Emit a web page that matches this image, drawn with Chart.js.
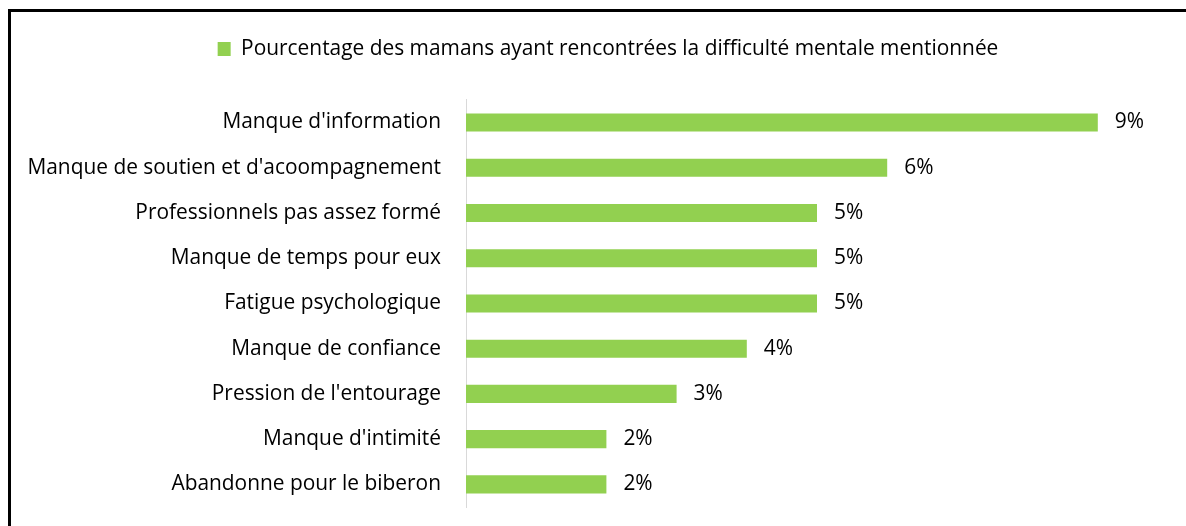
<!DOCTYPE html>
<html>
<head>
<meta charset="utf-8">
<script src="https://cdn.jsdelivr.net/npm/chart.js@4.4.1/dist/chart.umd.min.js"></script>
<style>
  html, body { margin: 0; padding: 0; background: #fff; }
  #wrap { position: relative; width: 1186px; height: 526px; overflow: hidden; }
  #frame { position: absolute; left: 8px; top: 9px; right: -10px; bottom: -10px;
           border-left: 3px solid #000; border-top: 3px solid #000; }
  canvas { position: absolute; left: 0; top: 0; }
</style>
</head>
<body>
<div id="wrap">
  <canvas id="c" width="1186" height="526" style="width:1186px;height:526px"></canvas>
  <div id="frame"></div>
</div>
<script>
const categories = [
  "Manque d'information",
  "Manque de soutien et d'acoompagnement",
  "Professionnels pas assez formé",
  "Manque de temps pour eux",
  "Fatigue psychologique",
  "Manque de confiance",
  "Pression de l'entourage",
  "Manque d'intimité",
  "Abandonne pour le biberon"
];
const seriesName = "Pourcentage des mamans ayant rencontrées la difficulté mentale mentionnée";
const values = [9, 6, 5, 5, 5, 4, 3, 2, 2];
const valueLabels = ["9%", "6%", "5%", "5%", "5%", "4%", "3%", "2%", "2%"];

const FONT = "'Open Sans'";
const FSIZE = 20.9;
const green = "#92D050";

const dataLabelPlugin = {
  id: 'dataLabels',
  afterDatasetsDraw(chart) {
    const ctx = chart.ctx;
    const meta = chart.getDatasetMeta(0);
    ctx.save();
    ctx.font = FSIZE + "px " + FONT;
    ctx.fillStyle = "#000";
    ctx.textAlign = "left";
    ctx.textBaseline = "middle";
    meta.data.forEach((bar, i) => {
      ctx.fillText(valueLabels[i], bar.x + 17, bar.y);
    });
    ctx.restore();
  }
};

new Chart(document.getElementById('c'), {
  type: 'bar',
  data: {
    labels: categories,
    datasets: [{
      label: seriesName,
      data: values,
      backgroundColor: green,
      borderWidth: 0,
      barPercentage: 0.4,
      categoryPercentage: 1.0
    }]
  },
  options: {
    indexAxis: 'y',
    responsive: false,
    maintainAspectRatio: false,
    animation: false,
    devicePixelRatio: 1,
    layout: { padding: { left: 28, right: -2, top: 28.5, bottom: 19 } },
    plugins: {
      legend: {
        position: 'top',
        labels: {
          boxWidth: 13, boxHeight: 14, padding: 10,
          color: '#000',
          font: { family: FONT, size: FSIZE }
        }
      },
      tooltip: { enabled: false }
    },
    scales: {
      x: {
        position: 'top', min: 0, max: 10,
        grid: { display: false, drawTicks: false },
        border: { display: false },
        ticks: { display: false },
        afterFit(scale) { scale.height = 30.5; }
      },
      y: {
        grid: { display: false, drawTicks: false },
        border: { display: true, color: '#d9d9d9', width: 1 },
        ticks: { color: '#000', padding: 25, font: { family: FONT, size: FSIZE } },
        afterFit(scale) { scale.width = 438; scale.paddingTop = 0; scale.paddingBottom = 0; }
      },
      yRight: {
        type: 'category',
        labels: categories,
        position: 'right',
        grid: { display: false, drawTicks: false },
        border: { display: false },
        ticks: { display: false },
        afterFit(scale) { scale.width = 20; scale.paddingTop = 0; scale.paddingBottom = 0; }
      }
    }
  },
  plugins: [dataLabelPlugin]
});
</script>
</body>
</html>
